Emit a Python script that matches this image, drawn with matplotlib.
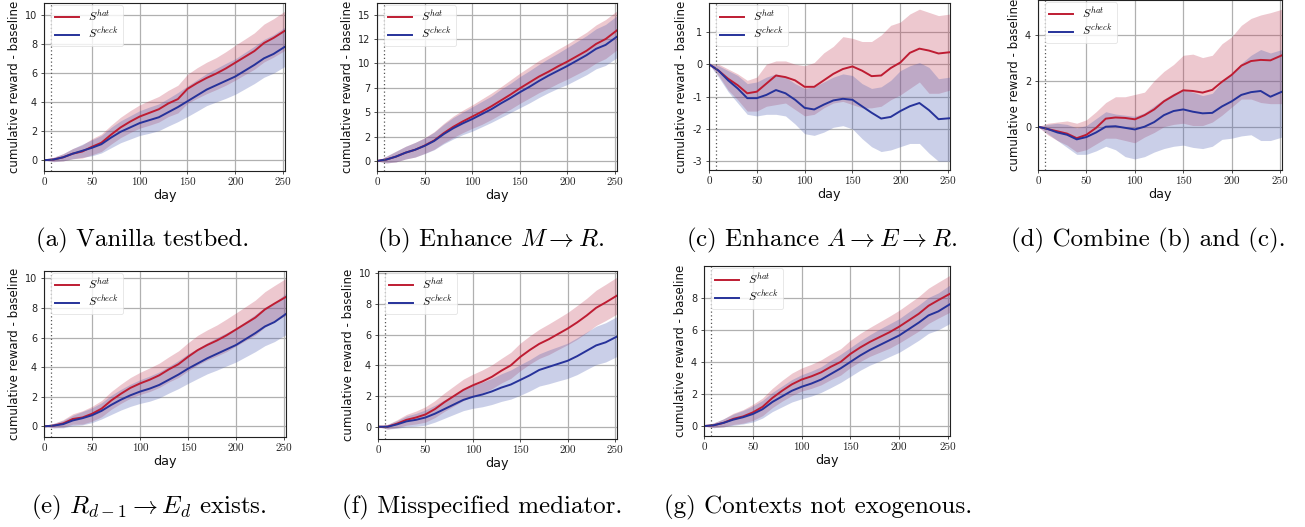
import matplotlib
matplotlib.use("Agg")
import matplotlib.pyplot as plt
import numpy as np
from matplotlib.ticker import FuncFormatter, MultipleLocator

plt.rcParams["mathtext.fontset"] = "cm"
plt.rcParams["axes.unicode_minus"] = False
plt.rcParams["font.family"] = "DejaVu Sans"

DAYS = [0, 10, 20, 30, 40, 50, 60, 70, 80, 90, 100, 110, 120, 130, 140, 150,
        160, 170, 180, 190, 200, 210, 220, 230, 240, 252]

# (a) Vanilla testbed
A_HAT = [0, 0.05, 0.2, 0.45, 0.6, 0.92, 1.2, 1.75, 2.25, 2.65, 3.0, 3.25, 3.5, 3.9, 4.2, 4.9,
         5.3, 5.65, 5.95, 6.3, 6.7, 7.1, 7.5, 8.05, 8.4, 8.9]
A_HAT_SD = [0, 0.15, 0.25, 0.35, 0.45, 0.55, 0.6, 0.65, 0.7, 0.75, 0.8, 0.85, 0.88, 0.9, 0.95, 1.0,
            1.05, 1.08, 1.1, 1.15, 1.2, 1.22, 1.25, 1.3, 1.32, 1.35]
A_CHECK = [0, 0.05, 0.2, 0.45, 0.65, 0.85, 1.1, 1.55, 1.95, 2.25, 2.55, 2.75, 2.95, 3.3, 3.65, 4.05,
           4.45, 4.85, 5.15, 5.45, 5.75, 6.15, 6.55, 7.0, 7.3, 7.8]
A_CHECK_SD = [0, 0.15, 0.25, 0.35, 0.45, 0.55, 0.6, 0.7, 0.75, 0.8, 0.85, 0.9, 0.92, 0.95, 1.0, 1.05,
              1.08, 1.1, 1.15, 1.2, 1.22, 1.25, 1.28, 1.3, 1.32, 1.35]

# (b) Enhance M -> R
B_HAT = [0, 0.15, 0.45, 0.85, 1.15, 1.58, 2.1, 2.85, 3.5, 4.05, 4.55, 5.05, 5.6, 6.2, 6.8, 7.45,
         8.05, 8.65, 9.15, 9.7, 10.2, 10.75, 11.3, 12.0, 12.5, 13.4]
B_HAT_SD = [0, 0.35, 0.55, 0.65, 0.75, 0.8, 0.9, 1.0, 1.1, 1.15, 1.2, 1.3, 1.35, 1.4, 1.5, 1.55,
            1.6, 1.65, 1.7, 1.75, 1.8, 1.85, 1.9, 1.95, 2.0, 2.0]
B_CHECK = [0, 0.15, 0.45, 0.85, 1.15, 1.55, 2.05, 2.75, 3.35, 3.85, 4.3, 4.8, 5.3, 5.9, 6.45, 7.05,
           7.6, 8.2, 8.75, 9.25, 9.75, 10.3, 10.85, 11.5, 11.9, 12.75]
B_CHECK_SD = [0, 0.35, 0.55, 0.65, 0.75, 0.8, 0.9, 1.0, 1.1, 1.15, 1.25, 1.3, 1.35, 1.45, 1.5, 1.6,
              1.65, 1.7, 1.75, 1.8, 1.9, 1.95, 2.0, 2.05, 2.1, 2.15]

# (c) Enhance A -> E -> R
C_HAT = [0, -0.2, -0.45, -0.65, -0.9, -0.85, -0.6, -0.35, -0.4, -0.5, -0.7, -0.7, -0.5, -0.3,
         -0.15, -0.07, -0.2, -0.37, -0.35, -0.12, 0.05, 0.35, 0.48, 0.42, 0.33, 0.37]
C_HAT_LO = [0, -0.35, -0.8, -1.1, -1.45, -1.45, -1.3, -1.25, -1.2, -1.4, -1.6, -1.55, -1.35, -1.2,
            -1.15, -1.25, -1.35, -1.35, -1.3, -1.1, -0.95, -0.75, -0.55, -0.9, -0.9, -0.8]
C_HAT_HI = [0, 0.0, -0.15, -0.3, -0.5, -0.4, 0.0, 0.1, 0.1, 0.0, -0.05, 0.05, 0.35, 0.55,
            0.85, 0.8, 0.7, 0.7, 0.9, 1.2, 1.3, 1.55, 1.7, 1.6, 1.5, 1.55]
C_CHECK = [0, -0.2, -0.5, -0.75, -1.05, -1.05, -0.95, -0.8, -0.9, -1.1, -1.35, -1.4, -1.25, -1.12,
           -1.07, -1.1, -1.3, -1.5, -1.68, -1.63, -1.45, -1.3, -1.2, -1.42, -1.7, -1.67]
C_CHECK_LO = [0, -0.4, -0.85, -1.2, -1.55, -1.6, -1.55, -1.55, -1.6, -1.85, -2.15, -2.2, -2.1, -1.95,
              -1.9, -2.0, -2.3, -2.55, -2.7, -2.65, -2.55, -2.45, -2.45, -2.75, -3.0, -3.0]
C_CHECK_HI = [0, -0.05, -0.2, -0.35, -0.6, -0.55, -0.4, -0.3, -0.4, -0.6, -0.75, -0.7, -0.55, -0.4,
              -0.3, -0.35, -0.6, -0.75, -0.7, -0.5, -0.2, -0.05, 0.05, -0.1, -0.45, -0.4]

# (d) Combine (b) and (c)
D_HAT = [0, -0.1, -0.2, -0.3, -0.5, -0.35, -0.05, 0.35, 0.4, 0.38, 0.32, 0.5, 0.75, 1.1, 1.35,
         1.58, 1.55, 1.48, 1.6, 1.95, 2.25, 2.65, 2.85, 2.9, 2.88, 3.1]
D_HAT_LO = [0, -0.35, -0.6, -0.8, -1.1, -1.0, -0.75, -0.5, -0.5, -0.6, -0.7, -0.45, -0.25, 0.0,
            0.1, 0.15, 0.05, 0.05, 0.2, 0.5, 0.85, 1.2, 1.2, 1.05, 1.0, 1.0]
D_HAT_HI = [0, 0.15, 0.2, 0.25, 0.15, 0.3, 0.65, 1.05, 1.3, 1.3, 1.4, 1.5, 2.0, 2.4, 2.7, 3.1,
            3.15, 3.0, 3.1, 3.6, 3.9, 4.4, 4.7, 4.85, 4.95, 5.1]
D_CHECK = [0, -0.1, -0.25, -0.35, -0.55, -0.45, -0.25, 0.0, 0.02, -0.05, -0.12, 0.0, 0.2, 0.5,
           0.68, 0.75, 0.65, 0.58, 0.6, 0.88, 1.1, 1.38, 1.5, 1.55, 1.3, 1.52]
D_CHECK_LO = [0, -0.3, -0.6, -0.9, -1.2, -1.2, -1.05, -0.85, -1.0, -1.3, -1.4, -1.3, -1.1, -0.95,
              -0.85, -0.8, -0.9, -0.95, -0.85, -0.55, -0.5, -0.4, -0.35, -0.6, -0.6, -0.45]
D_CHECK_HI = [0, 0.1, 0.15, 0.1, -0.05, 0.05, 0.35, 0.65, 0.55, 0.5, 0.45, 0.6, 0.9, 1.2, 1.45,
              1.6, 1.5, 1.35, 1.45, 1.95, 2.3, 2.75, 3.1, 3.35, 3.2, 3.35]

# (e) R_{d-1} -> E_d exists
E_HAT = [0, 0.05, 0.2, 0.5, 0.6, 0.85, 1.2, 1.75, 2.2, 2.6, 2.9, 3.15, 3.45, 3.85, 4.2, 4.7,
         5.15, 5.5, 5.8, 6.15, 6.55, 6.95, 7.35, 7.9, 8.3, 8.75]
E_HAT_SD = [0, 0.15, 0.25, 0.35, 0.45, 0.5, 0.55, 0.6, 0.65, 0.7, 0.75, 0.8, 0.82, 0.85, 0.9, 0.95,
            1.0, 1.02, 1.05, 1.1, 1.12, 1.15, 1.18, 1.2, 1.22, 1.25]
E_CHECK = [0, 0.05, 0.15, 0.4, 0.55, 0.75, 1.05, 1.45, 1.8, 2.1, 2.35, 2.55, 2.8, 3.15, 3.5, 3.9,
           4.25, 4.6, 4.9, 5.2, 5.5, 5.9, 6.3, 6.75, 7.05, 7.6]
E_CHECK_SD = [0, 0.15, 0.25, 0.35, 0.45, 0.5, 0.55, 0.65, 0.7, 0.75, 0.8, 0.85, 0.88, 0.9, 0.95, 1.0,
              1.02, 1.05, 1.1, 1.12, 1.15, 1.2, 1.25, 1.3, 1.32, 1.4]

# (f) Misspecified mediator
F_HAT = [0, 0.0, 0.2, 0.45, 0.6, 0.8, 1.15, 1.6, 2.0, 2.4, 2.7, 2.95, 3.25, 3.65, 4.0, 4.55,
         5.0, 5.4, 5.7, 6.05, 6.4, 6.8, 7.25, 7.75, 8.1, 8.55]
F_HAT_SD = [0, 0.15, 0.25, 0.35, 0.42, 0.5, 0.55, 0.6, 0.65, 0.7, 0.72, 0.75, 0.78, 0.8, 0.85, 0.9,
            0.92, 0.95, 1.0, 1.02, 1.05, 1.1, 1.12, 1.15, 1.18, 1.2]
F_CHECK = [0, 0.0, 0.15, 0.35, 0.45, 0.6, 0.85, 1.15, 1.45, 1.75, 1.95, 2.1, 2.3, 2.55, 2.75, 3.05,
           3.35, 3.7, 3.9, 4.1, 4.3, 4.6, 4.95, 5.3, 5.5, 5.88]
F_CHECK_SD = [0, 0.15, 0.25, 0.35, 0.42, 0.5, 0.55, 0.6, 0.65, 0.7, 0.75, 0.8, 0.85, 0.9, 0.95, 1.0,
              1.02, 1.05, 1.1, 1.12, 1.15, 1.2, 1.22, 1.25, 1.28, 1.3]

# (g) Contexts not exogenous
G_HAT = [0, 0.05, 0.2, 0.45, 0.6, 0.85, 1.2, 1.75, 2.2, 2.6, 2.9, 3.1, 3.35, 3.7, 4.0, 4.5,
         4.9, 5.25, 5.55, 5.85, 6.2, 6.6, 7.0, 7.5, 7.85, 8.25]
G_HAT_SD = [0, 0.15, 0.25, 0.35, 0.42, 0.5, 0.55, 0.6, 0.65, 0.7, 0.72, 0.75, 0.78, 0.8, 0.82, 0.85,
            0.88, 0.9, 0.95, 1.0, 1.02, 1.05, 1.08, 1.1, 1.12, 1.15]
G_CHECK = [0, 0.05, 0.2, 0.4, 0.55, 0.75, 1.05, 1.5, 1.85, 2.2, 2.45, 2.65, 2.9, 3.25, 3.6, 4.0,
           4.4, 4.75, 5.05, 5.35, 5.65, 6.05, 6.45, 6.9, 7.15, 7.6]
G_CHECK_SD = [0, 0.15, 0.25, 0.35, 0.42, 0.5, 0.55, 0.6, 0.65, 0.7, 0.75, 0.78, 0.8, 0.85, 0.88, 0.9,
              0.92, 0.95, 1.0, 1.02, 1.05, 1.08, 1.1, 1.12, 1.15, 1.2]

CAPTIONS = ["(a) Vanilla testbed.",
            r"(b) Enhance $M \rightarrow R$.",
            r"(c) Enhance $A \rightarrow E \rightarrow R$.",
            "(d) Combine (b) and (c).",
            r"(e) $R_{d-1} \rightarrow E_d$ exists.",
            "(f) Misspecified mediator.",
            "(g) Contexts not exogenous."]
LEGEND_LABELS = [r"$S^{hat}$", r"$S^{check}$"]
YLABEL = "cumulative reward - baseline"
XLABEL = "day"
XTICKS = [0, 50, 100, 150, 200, 250]

RED = "#be1c32"
BLUE = "#26329a"
RED_FILL = "#c0344f"
BLUE_FILL = "#5263b3"

W, H = 1305, 527
fig = plt.figure(figsize=(W / 100, H / 100), dpi=100)


def band(mean, sd):
    m = np.array(mean)
    s = np.array(sd)
    return m, m - s, m + s


panels = [
    dict(box=(44, 285, 3, 171), ylim=(-0.74, 10.8), step=2,
         hat=band(A_HAT, A_HAT_SD), check=band(A_CHECK, A_CHECK_SD), cap=(143, 240)),
    dict(box=(377, 617, 3, 171), ylim=(-1.03, 16.2), step=2.5,
         hat=band(B_HAT, B_HAT_SD), check=band(B_CHECK, B_CHECK_SD), cap=(491, 240)),
    dict(box=(709, 950, 3, 170), ylim=(-3.27, 1.89), step=1,
         hat=(np.array(C_HAT), np.array(C_HAT_LO), np.array(C_HAT_HI)),
         check=(np.array(C_CHECK), np.array(C_CHECK_LO), np.array(C_CHECK_HI)), cap=(822, 240)),
    dict(box=(1038, 1282, 0, 170), ylim=(-1.88, 5.5), step=2,
         hat=(np.array(D_HAT), np.array(D_HAT_LO), np.array(D_HAT_HI)),
         check=(np.array(D_CHECK), np.array(D_CHECK_LO), np.array(D_CHECK_HI)), cap=(1148, 240)),
    dict(box=(44, 286, 271, 437), ylim=(-0.72, 10.5), step=2,
         hat=band(E_HAT, E_HAT_SD), check=band(E_CHECK, E_CHECK_SD), cap=(149, 507)),
    dict(box=(378, 617, 271, 439), ylim=(-0.8, 10.15), step=2,
         hat=band(F_HAT, F_HAT_SD), check=band(F_CHECK, F_CHECK_SD), cap=(482, 507)),
    dict(box=(704, 950, 266, 436), ylim=(-0.62, 9.98), step=2,
         hat=band(G_HAT, G_HAT_SD), check=band(G_CHECK, G_CHECK_SD), cap=(818, 507)),
]

for p, caption in zip(panels, CAPTIONS):
    x0, x1, yt, yb = p["box"]
    ax = fig.add_axes([x0 / W, 1 - yb / H, (x1 - x0) / W, (yb - yt) / H])
    hm, hl, hh = p["hat"]
    cm_, cl, ch = p["check"]
    ax.fill_between(DAYS, hl, hh, color=RED_FILL, alpha=0.27, linewidth=0)
    ax.fill_between(DAYS, cl, ch, color=BLUE_FILL, alpha=0.3, linewidth=0)
    ax.plot(DAYS, hm, color=RED, lw=1.4, label=LEGEND_LABELS[0])
    ax.plot(DAYS, cm_, color=BLUE, lw=1.4, label=LEGEND_LABELS[1])
    ax.axvline(7, color="#555555", ls=(0, (1, 2)), lw=0.9)
    ax.set_xlim(0, 252)
    ax.set_ylim(*p["ylim"])
    ax.set_xticks(XTICKS)
    ax.yaxis.set_major_locator(MultipleLocator(p["step"]))
    ax.yaxis.set_major_formatter(FuncFormatter(lambda v, pos: str(int(v))))
    ax.grid(True, color="#b0b0b0", lw=0.9)
    ax.set_axisbelow(True)
    for s in ax.spines.values():
        s.set_color("#222222")
        s.set_linewidth(0.8)
    ax.tick_params(axis="both", length=2.5, width=0.6, color="#333333", pad=2.5)
    ax.tick_params(axis="y", labelsize=7, labelcolor="#222222")
    ax.tick_params(axis="x", labelsize=8, labelcolor="#222222")
    for t in ax.get_xticklabels():
        t.set_fontfamily("cmr10")
    ax.set_xlabel(XLABEL, fontsize=9.2, labelpad=1, color="#111111")
    ax.set_ylabel(YLABEL, fontsize=8.5, labelpad=3, color="#111111")
    leg = ax.legend(loc="upper left", bbox_to_anchor=(0.02, 1.0), fontsize=8.5,
                    frameon=True, fancybox=True, framealpha=0.8, edgecolor="#dddddd",
                    handlelength=2.0, borderpad=0.35, labelspacing=0.2, borderaxespad=0.2)
    leg.get_frame().set_linewidth(0.6)
    cx, cy = p["cap"]
    fig.text(cx / W, 1 - cy / H, caption,
             ha="center", va="center", fontsize=18, family="cmr10")

fig.savefig("out.png", dpi=100)
